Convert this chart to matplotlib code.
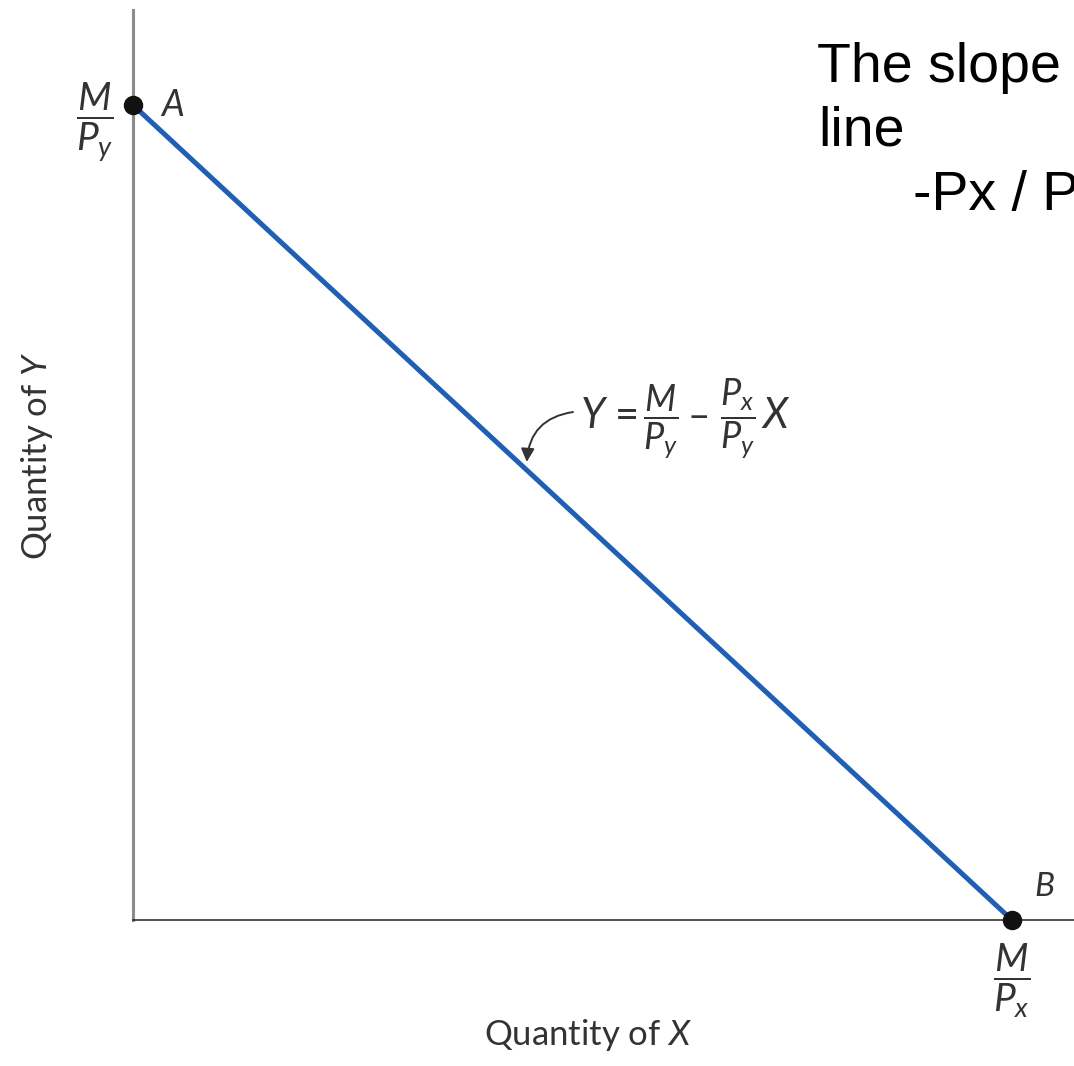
import matplotlib
matplotlib.use("Agg")
import matplotlib.pyplot as plt

plt.rcParams['font.family'] = ['Lato', 'DejaVu Sans']
plt.rcParams['mathtext.fontset'] = 'custom'
plt.rcParams['mathtext.rm'] = 'Lato'
plt.rcParams['mathtext.it'] = 'Lato:italic'

# budget: income and prices
income = 100.0
price_x = 4.0
price_y = 4.0
x_max = income / price_x
y_max = income / price_y

line_x = [0.0, x_max]
line_y = [y_max, 0.0]

GREY = '#333333'
W, H = 1074, 1066


def fpos(px, py):
    # pixel position from top-left -> figure fraction
    return px / W, 1 - py / H


fig = plt.figure(figsize=(W / 100, H / 100), dpi=100)
ax = fig.add_axes([133 / W, 146 / H, 941 / W, 910 / H])

ax.set_xlim(0, x_max * 941 / 879)
ax.set_ylim(0, y_max * 910 / 815)

ax.plot(line_x, line_y, color='#1f5fb4', lw=3.6, solid_capstyle='butt', zorder=3)
ax.plot(line_x, line_y, 'o', color='#111111', ms=13, zorder=4, clip_on=False)

for s in ['top', 'right']:
    ax.spines[s].set_visible(False)
ax.spines['left'].set_color('#8c8c8c')
ax.spines['left'].set_linewidth(2.2)
ax.spines['bottom'].set_color('#222222')
ax.spines['bottom'].set_linewidth(1.1)

ax.set_xticks([x_max])
ax.set_xticklabels([r'$\dfrac{M}{P_x}$'], fontsize=28, color=GREY)
ax.set_yticks([y_max])
ax.set_yticklabels([r'$\dfrac{M}{P_y}$'], fontsize=28, color=GREY)
ax.tick_params(axis='y', length=0, pad=14)
ax.tick_params(axis='x', length=0, pad=16)

ax.text(0.8, y_max, 'A', fontsize=26, style='italic', color=GREY, va='center')
ax.text(x_max + 0.65, 1.0, 'B', fontsize=24, style='italic', color=GREY, va='center')

# budget line equation, built from pieces so the fractions sit smaller than Y and X
eq_base = 428
fig.text(*fpos(580, eq_base), '$Y$ =', fontsize=30, color=GREY, ha='left', va='baseline')
fig.text(*fpos(661, eq_base), r'$\dfrac{M}{P_y}$', fontsize=26, color=GREY,
         ha='center', va='baseline')
fig.text(*fpos(699, eq_base), '\u2013', fontsize=28, color=GREY, ha='center', va='baseline')
fig.text(*fpos(738, eq_base), r'$\dfrac{P_x}{P_y}$', fontsize=26, color=GREY,
         ha='center', va='baseline')
fig.text(*fpos(761, eq_base), '$X$', fontsize=30, color=GREY, ha='left', va='baseline')

ax.annotate('', xy=(11.2, 14.05), xycoords='data',
            xytext=fpos(573, 412), textcoords='figure fraction',
            arrowprops=dict(arrowstyle='-|>', color=GREY, lw=1.4,
                            connectionstyle='arc3,rad=0.4', shrinkA=0, shrinkB=0,
                            mutation_scale=20))

fig.text(*fpos(588, 1035), 'Quantity of $X$', fontsize=25, color=GREY,
         ha='center', va='center')
fig.text(*fpos(37, 456), 'Quantity of $Y$', fontsize=25, color=GREY,
         ha='center', va='center', rotation=90)

# slope note, one line at a time
note_lines = ['The slope of the budget', 'line', '-Px / Py']
note_x = [817, 818, 913]
note_base = [82, 145, 210]
for txt, px, py in zip(note_lines, note_x, note_base):
    fig.text(*fpos(px, py), txt, fontsize=40, family='Liberation Sans',
             color='black', ha='left', va='baseline')

fig.savefig('out.png', dpi=100)
